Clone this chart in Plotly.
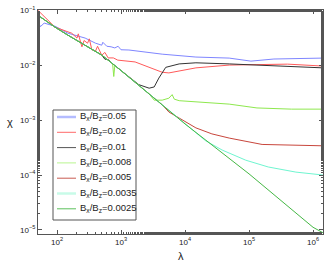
import plotly.graph_objects as go

# Data (lambda, chi)
lam_base = [50, 93, 148, 275, 500, 890, 1660, 10000, 100000, 1000000, 1430000]
chi_base = [0.081, 0.049, 0.035, 0.0231, 0.0152, 0.0089, 0.0049, 8.5e-4, 1.05e-4, 1.12e-5, 8.9e-6]

lam_b05 = [50, 55, 63, 72, 93, 148, 275, 400, 500, 520, 600, 700, 800, 900, 1000, 1330, 4400, 14800, 49000, 107000, 245000, 1430000]
chi_b05 = [0.066, 0.05, 0.058, 0.055, 0.051, 0.038, 0.031, 0.025, 0.023, 0.026, 0.022, 0.0215, 0.0205, 0.022, 0.019, 0.0188, 0.0158, 0.014, 0.0134, 0.0118, 0.0129, 0.0134]

lam_b02 = [50, 93, 170, 205, 215, 245, 265, 300, 320, 350, 400, 430, 500, 560, 630, 760, 890, 1660, 4400, 5600, 14800, 49000, 133000, 400000, 1430000]
chi_b02 = [0.10, 0.049, 0.038, 0.031, 0.037, 0.0215, 0.028, 0.025, 0.03, 0.019, 0.018, 0.022, 0.0151, 0.017, 0.0135, 0.0135, 0.0123, 0.0114, 0.0074, 0.0072, 0.0089, 0.010, 0.0102, 0.0104, 0.0096]

lam_b01 = [50, 93, 148, 275, 500, 560, 640, 720, 890, 1660, 1900, 2750, 3300, 3900, 5000, 8100, 14800, 49000, 133000, 800000, 1430000]
chi_b01 = [0.081, 0.049, 0.035, 0.0231, 0.0152, 0.0128, 0.0125, 0.0108, 0.0089, 0.0049, 0.0044, 0.0038, 0.0040, 0.0058, 0.0091, 0.0105, 0.011, 0.0105, 0.010, 0.0089, 0.0089]

lam_b008 = [50, 93, 148, 275, 500, 740, 770, 800, 890, 1660, 2750, 3300, 4400, 5600, 6300, 6800, 8100, 14800, 49000, 133000, 460000, 1430000]
chi_b008 = [0.081, 0.049, 0.035, 0.0231, 0.0152, 0.0105, 0.0062, 0.0098, 0.0089, 0.0049, 0.0030, 0.0023, 0.0023, 0.0025, 0.0029, 0.0024, 0.00225, 0.00215, 0.00195, 0.00166, 0.00158, 0.00158]

lam_b005 = [50, 93, 148, 275, 500, 890, 1660, 4400, 5600, 8100, 14800, 26300, 49000, 160000, 420000, 1430000]
chi_b005 = [0.081, 0.049, 0.035, 0.0231, 0.0152, 0.0089, 0.0049, 0.0019, 0.0014, 0.0011, 7.2e-4, 5.6e-4, 4.7e-4, 3.6e-4, 3.5e-4, 3.4e-4]

lam_b0035 = [50, 93, 148, 275, 500, 890, 1660, 10000, 14000, 21000, 38000, 89000, 200000, 540000, 1430000]
chi_b0035 = [0.081, 0.049, 0.035, 0.0231, 0.0152, 0.0089, 0.0049, 8.5e-4, 6.3e-4, 4.2e-4, 2.85e-4, 1.86e-4, 1.4e-4, 1.13e-4, 1.0e-4]

ratios = ["0.05", "0.02", "0.01", "0.008", "0.005", "0.0035", "0.0025"]
colors = ["#7f86ff", "#ff5a5a", "#333333", "#8ee84e", "#c8463c", "#6ff5d0", "#45b845"]
legend_widths = [2.5, 1, 1, 1, 1, 2.5, 1]
legend_colors = ["#b4bcff", "#ff6a6a", "#555555", "#b8f590", "#c85a50", "#c8fbe8", "#5cc05c"]
xs = [lam_b05, lam_b02, lam_b01, lam_b008, lam_b005, lam_b0035, lam_base]
ys = [chi_b05, chi_b02, chi_b01, chi_b008, chi_b005, chi_b0035, chi_base]

x_tickvals = [1e2, 1e3, 1e4, 1e5, 1e6]
x_ticktext = ["10<sup>2</sup>", "10<sup>3</sup>", "10<sup>4</sup>", "10<sup>5</sup>", "10<sup>6</sup>"]
y_tickvals = [1e-1, 1e-2, 1e-3, 1e-4, 1e-5]
y_ticktext = ["10<sup>−1</sup>", "10<sup>−2</sup>", "10<sup>−3</sup>", "10<sup>−4</sup>", "10<sup>−5</sup>"]

FONT = "Liberation Sans, Arial"
fig = go.Figure()
for name, lx, ly, col in zip(ratios, xs, ys, colors):
    fig.add_trace(go.Scatter(
        x=lx, y=ly, mode="lines",
        name="B<sub>x</sub>/B<sub>z</sub>=" + name,
        line=dict(color=col, width=1), showlegend=False,
    ))

axis_common = dict(
    type="log", showgrid=False, zeroline=False,
    showline=True, linecolor="#555555", linewidth=1, mirror="allticks",
    ticks="inside", ticklen=4, tickcolor="#555555",
    tickfont=dict(family=FONT, size=8, color="#222222"),
    ticklabeloverflow="allow",
    minor=dict(ticks="inside", ticklen=2, tickcolor="#555555", showgrid=False),
)

fig.update_xaxes(range=[1.703, 6.156], tickvals=x_tickvals, ticktext=x_ticktext, **axis_common)
fig.update_yaxes(range=[-5.073, -0.998], tickvals=y_tickvals, ticktext=y_ticktext, **axis_common)

# page pixel -> paper coordinate helpers (plot area spans x 38..323, y 10..234)
def px(x):
    return (x - 38) / 285.0

def py(y):
    return (234 - y) / 224.0

shapes = [dict(type="rect", xref="paper", yref="paper",
               x0=px(53), x1=px(136), y0=py(110), y1=py(220),
               line=dict(color="#555555", width=1), fillcolor="white", layer="above")]
annotations = []
for i, (name, lc, lw) in enumerate(zip(ratios, legend_colors, legend_widths)):
    yy = 117 + i * 15.3
    shapes.append(dict(type="line", xref="paper", yref="paper",
                       x0=px(57), x1=px(76), y0=py(yy), y1=py(yy),
                       line=dict(color=lc, width=lw), layer="above"))
    annotations.append(dict(text="B<sub>x</sub>/B<sub>z</sub>=" + name,
                            xref="paper", yref="paper", x=px(78), y=py(yy - 1),
                            xanchor="left", yanchor="middle", showarrow=False,
                            font=dict(family=FONT, size=9.5, color="#222222")))

annotations.append(dict(text="χ", xref="paper", yref="paper", x=px(10), y=py(122),
                        showarrow=False, xanchor="center", yanchor="middle",
                        font=dict(family=FONT, size=11, color="#222222")))
annotations.append(dict(text="λ", xref="paper", yref="paper", x=px(181), y=py(256),
                        showarrow=False, xanchor="center", yanchor="middle",
                        font=dict(family=FONT, size=11, color="#222222")))

fig.update_layout(
    width=328, height=264,
    margin=dict(l=38, r=5, t=10, b=30),
    paper_bgcolor="white", plot_bgcolor="white",
    showlegend=False,
    shapes=shapes, annotations=annotations,
)

# remove the default page margin so the figure fills the 328x264 window exactly
fig.write_html("out.html", config={"displayModeBar": False},
               post_script="document.body.style.margin='0px';")
